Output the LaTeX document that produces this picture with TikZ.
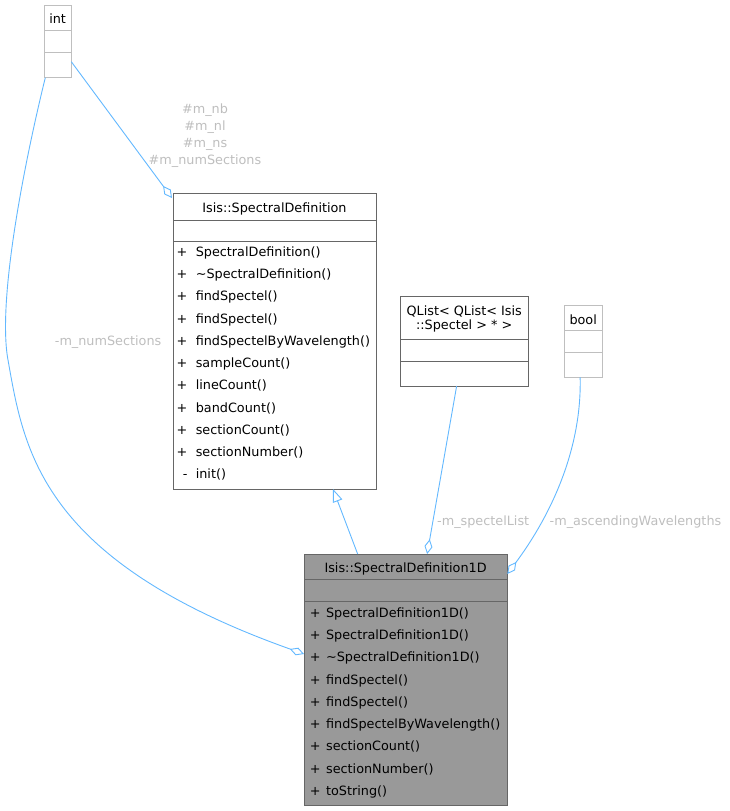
\documentclass[tikz,border=0pt]{standalone}
\usepackage{fontspec}
\setmainfont{DejaVu Sans}
\usetikzlibrary{arrows.meta}
\definecolor{edgeblue}{HTML}{63B8FF}
\definecolor{boxgray}{HTML}{666666}
\definecolor{extgray}{HTML}{BFBFBF}
\definecolor{fillgray}{HTML}{999999}
\definecolor{lblgray}{HTML}{BEBEBE}
\newcommand\plusA{\makebox[19.2pt][l]{+}}
\newcommand\minusA{\makebox[19.2pt][l]{\hspace{6.3pt}-}}
\newcommand\plusB{\makebox[16.2pt][l]{+}}
\begin{document}
\begin{tikzpicture}[x=1pt,y=-1pt,
  font=\fontsize{12.8}{17}\selectfont,
  cls/.style={draw=boxgray, line width=1pt, inner sep=0pt, outer sep=0pt, anchor=north west},
  extcls/.style={draw=extgray, line width=1pt, inner sep=0pt, outer sep=0pt, anchor=north west},
  sepline/.style={draw=boxgray, line width=1pt},
  extsep/.style={draw=extgray, line width=1pt},
  member/.style={anchor=base west, inner sep=0pt},
  ctitle/.style={anchor=base, inner sep=0pt},
  lbl/.style={text=lblgray, inner sep=0pt},
  agg/.style={draw=edgeblue, line width=0.9pt, -{Diamond[open,length=15pt,width=8pt]}},
  inh/.style={draw=edgeblue, line width=0.9pt, -{Triangle[open,length=13pt,width=10pt]}}]
\useasboundingbox (0,0) rectangle (729,811);

% int
\node[extcls, minimum width=27.3pt, minimum height=72.7pt] (int) at (44,5) {};
\draw[extsep] (44,30) -- (71.3,30);
\draw[extsep] (44,52.3) -- (71.3,52.3);
\node[ctitle] (intT) at (57.6,23.1) {int};

% Isis::SpectralDefinition
\node[cls, minimum width=203pt, minimum height=296pt] (sd) at (173,193) {};
\draw[sepline] (173,220) -- (376,220);
\draw[sepline] (173,241) -- (376,241);
\node[ctitle] (sdT) at (274.5,212) {Isis::SpectralDefinition};
\foreach \t [count=\i] in {{\plusA SpectralDefinition()},{\plusA \textasciitilde SpectralDefinition()},
  {\plusA findSpectel()},{\plusA findSpectel()},{\plusA findSpectelByWavelength()},
  {\plusA sampleCount()},{\plusA lineCount()},{\plusA bandCount()},
  {\plusA sectionCount()},{\plusA sectionNumber()},{\minusA init()}}
  \node[member] (sdm\i) at (176.4,{256.4+(\i-1)*22.23}) {\t};

% QList
\node[cls, minimum width=128.3pt, minimum height=89.5pt] (ql) at (400,296.5) {};
\draw[sepline] (400,339) -- (528.3,339);
\draw[sepline] (400,361) -- (528.3,361);
\node[ctitle] (qlT1) at (464.2,315) {QList< QList< Isis};
\node[ctitle] (qlT2) at (464.2,329) {::Spectel > * >};

% bool
\node[extcls, minimum width=38.3pt, minimum height=72.3pt] (bool) at (564,305) {};
\draw[extsep] (564,330.3) -- (602.3,330.3);
\draw[extsep] (564,352.3) -- (602.3,352.3);
\node[ctitle] (boolT) at (583.2,324) {bool};

% Isis::SpectralDefinition1D
\node[cls, fill=fillgray, minimum width=203.3pt, minimum height=251pt] (sd1) at (304,554) {};
\draw[sepline] (304,579.3) -- (507.3,579.3);
\draw[sepline] (304,601.7) -- (507.3,601.7);
\node[ctitle] (sd1T) at (405.6,572.4) {Isis::SpectralDefinition1D};
\foreach \t [count=\i] in {{\plusB SpectralDefinition1D()},{\plusB SpectralDefinition1D()},
  {\plusB \textasciitilde SpectralDefinition1D()},{\plusB findSpectel()},{\plusB findSpectel()},
  {\plusB findSpectelByWavelength()},{\plusB sectionCount()},{\plusB sectionNumber()},
  {\plusB toString()}}
  \node[member] (sd1m\i) at (309.7,{617.4+(\i-1)*22.25}) {\t};

% connectors
\draw[agg] ([yshift=-20.35pt]int.east) -- ([xshift=-1pt,yshift=-5pt]sd.north west);
\node[lbl, align=center] (lblA) at (205,135.5) {\#m\_nb\\\#m\_nl\\\#m\_ns\\\#m\_numSections};

\draw[agg] ([xshift=1.3pt]int.south west) .. controls (25,160) and (-3,300) .. (8,360)
  .. controls (24,450) and (40,560) .. ([yshift=25.5pt]sd1.west);
\node[lbl, anchor=base east] (lblB) at (161.5,345.7) {-m\_numSections};

\draw[inh] ([xshift=-48pt]sd1.north) -- ([xshift=58.5pt]sd.south);

\draw[agg] ([xshift=-7.5pt]ql.south) -- ([xshift=21.5pt]sd1.north);
\node[lbl, anchor=base west] (lblC) at (437,525.5) {-m\_spectelList};

\draw[agg] ([xshift=-3pt]bool.south) .. controls (582,455) and (546,522) .. ([yshift=105.5pt]sd1.east);
\node[lbl, anchor=base west] (lblD) at (549.5,525.5) {-m\_ascendingWavelengths};
\end{tikzpicture}
\end{document}
